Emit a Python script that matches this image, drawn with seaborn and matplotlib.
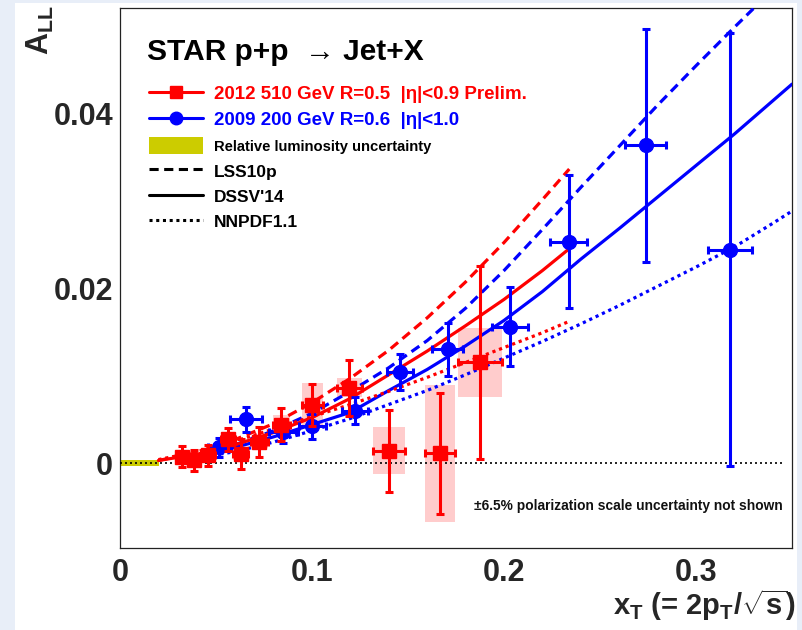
import numpy as np
import pandas as pd
import matplotlib
matplotlib.use('Agg')
import matplotlib.pyplot as plt
from matplotlib.lines import Line2D
from matplotlib.patches import Patch, Rectangle
from matplotlib.ticker import MultipleLocator, FuncFormatter
import seaborn as sns

# 2012 510 GeV, R=0.5 (red, preliminary)
red_x = [0.0321, 0.0384, 0.0459, 0.0562, 0.0628, 0.0726, 0.0840, 0.1002, 0.1194, 0.1400, 0.1668, 0.1874]
red_y = [0.0007, 0.0003, 0.0009, 0.0027, 0.0010, 0.0024, 0.0044, 0.0066, 0.0086, 0.0014, 0.0011, 0.0115]
red_yerr = [0.0012, 0.0012, 0.0012, 0.0013, 0.0017, 0.0017, 0.0019, 0.0024, 0.0032, 0.0047, 0.0069, 0.0110]
red_xerr = [0.0030, 0.0030, 0.0035, 0.0035, 0.0040, 0.0045, 0.0045, 0.0055, 0.0066, 0.0082, 0.0078, 0.0114]
red_sys = [0.0004, 0.0004, 0.0004, 0.0006, 0.0006, 0.0007, 0.0011, 0.0025, 0.0011, 0.0027, 0.0078, 0.0039]

# 2009 200 GeV, R=0.6 (blue)
blue_x = [0.0516, 0.0655, 0.0850, 0.1002, 0.1222, 0.1460, 0.1707, 0.2032, 0.2336, 0.2739, 0.3177]
blue_y = [0.0018, 0.0050, 0.0035, 0.0042, 0.0060, 0.0104, 0.0130, 0.0156, 0.0253, 0.0363, 0.0244]
blue_yerr = [0.0011, 0.0014, 0.0012, 0.0014, 0.0015, 0.0021, 0.0030, 0.0045, 0.0076, 0.0133, 0.0247]
blue_xerr = [0.0060, 0.0082, 0.0075, 0.0070, 0.0068, 0.0067, 0.0080, 0.0093, 0.0095, 0.0107, 0.0114]

# theory curves, 510 GeV
th510_x = [0.02, 0.04, 0.06, 0.08, 0.10, 0.12, 0.14, 0.16, 0.18, 0.20, 0.22, 0.234]
lss_510 = [0.0003, 0.0012, 0.0027, 0.0045, 0.0069, 0.0097, 0.0129, 0.0166, 0.0207, 0.0252, 0.0301, 0.0336]
dssv_510 = [0.0003, 0.0010, 0.0021, 0.0035, 0.0052, 0.0074, 0.0101, 0.0128, 0.0157, 0.0187, 0.0220, 0.0245]
nnpdf_510 = [0.0004, 0.0013, 0.0025, 0.0039, 0.0053, 0.0067, 0.0082, 0.0098, 0.0115, 0.0132, 0.0149, 0.0162]

# theory curves, 200 GeV
th200_x = [0.045, 0.06, 0.08, 0.10, 0.12, 0.14, 0.16, 0.18, 0.20, 0.22, 0.24, 0.26, 0.28, 0.30, 0.32, 0.34, 0.35]
lss_200 = [0.0012, 0.0021, 0.0037, 0.0057, 0.0082, 0.0109, 0.0140, 0.0177, 0.0220, 0.0267, 0.0315, 0.0362, 0.0409, 0.0454, 0.0498, 0.0541, 0.0562]
dssv_200 = [0.0011, 0.0018, 0.0030, 0.0044, 0.0058, 0.0083, 0.0107, 0.0134, 0.0163, 0.0196, 0.0233, 0.0268, 0.0304, 0.0340, 0.0376, 0.0414, 0.0433]
nnpdf_200 = [0.0008, 0.0013, 0.0024, 0.0037, 0.0051, 0.0067, 0.0083, 0.0101, 0.0120, 0.0139, 0.0159, 0.0180, 0.0202, 0.0224, 0.0247, 0.0274, 0.0288]

# relative luminosity band
lumi_x = [0.0, 0.0205]
lumi_unc = 0.00035

BG = '#e8eef8'
RED = '#ff0000'
BLUE = '#0000ff'
SYS = '#ffcccc'
LUMI = '#cccc00'
DASH = (0, (3, 1.8))
DOT = (0, (1, 1.2))

sns.set_theme(style='white')
plt.rcParams['font.family'] = ['Liberation Sans', 'DejaVu Sans']
plt.rcParams['font.weight'] = 'bold'
plt.rcParams['mathtext.fontset'] = 'custom'
plt.rcParams['mathtext.rm'] = 'Liberation Sans:bold'
plt.rcParams['mathtext.it'] = 'Liberation Sans:bold'
plt.rcParams['mathtext.bf'] = 'Liberation Sans:bold'
plt.rcParams['mathtext.sf'] = 'Liberation Sans:bold'

fig = plt.figure(figsize=(8.02, 6.30), dpi=100, facecolor=BG)
fig.patches.append(Rectangle((15 / 802, 0), 782 / 802, 627 / 630, transform=fig.transFigure,
                             facecolor='white', edgecolor='none', zorder=-10))
ax = fig.add_axes([120 / 802, 82 / 630, 672 / 802, 540 / 630])
ax.set_facecolor('white')

# systematic boxes
ax.bar(red_x, [2 * s for s in red_sys], width=[2 * w for w in red_xerr],
       bottom=[y - s for y, s in zip(red_y, red_sys)], color=SYS, edgecolor='none', zorder=1)

# relative luminosity uncertainty
ax.fill_between(lumi_x, -lumi_unc, lumi_unc, color=LUMI, lw=0, zorder=2)
ax.axhline(0, xmin=0, xmax=0.99, color='black', lw=1.2, ls=(0, (1.2, 1.8)), zorder=3)

# theory curves
for yy, ls in [(lss_200, DASH), (dssv_200, '-'), (nnpdf_200, DOT)]:
    sns.lineplot(x=th200_x, y=yy, ax=ax, color=BLUE, lw=2.3, linestyle=ls, zorder=4)
for yy, ls in [(lss_510, DASH), (dssv_510, '-'), (nnpdf_510, DOT)]:
    sns.lineplot(x=th510_x, y=yy, ax=ax, color=RED, lw=2.3, linestyle=ls, zorder=4)

# data
ax.errorbar(blue_x, blue_y, yerr=blue_yerr, xerr=blue_xerr, fmt='o', color=BLUE, ms=10,
            elinewidth=2.2, capsize=3, capthick=2.2, zorder=5)
ax.errorbar(red_x, red_y, yerr=red_yerr, xerr=red_xerr, fmt='s', color=RED, ms=9.5,
            elinewidth=2.2, capsize=3, capthick=2.2, zorder=6)

ax.set_xlim(0, 0.35)
ax.set_ylim(-0.0097, 0.052)
ax.xaxis.set_major_locator(MultipleLocator(0.1))
ax.xaxis.set_minor_locator(MultipleLocator(0.02))
ax.yaxis.set_major_locator(MultipleLocator(0.02))
ax.yaxis.set_minor_locator(MultipleLocator(0.005))
fmt = FuncFormatter(lambda v, p: '0' if abs(v) < 1e-9 else f'{v:g}')
ax.xaxis.set_major_formatter(fmt)
ax.yaxis.set_major_formatter(fmt)
ax.tick_params(which='both', direction='in', top=False, right=False, color='#333333', width=0.8)
ax.tick_params(which='major', length=13, labelsize=22)
ax.tick_params(which='minor', length=6.5)
ax.tick_params(axis='x', pad=7)
ax.tick_params(axis='y', pad=5)
for lab in ax.get_xticklabels() + ax.get_yticklabels():
    lab.set_fontweight('bold')
for sp in ax.spines.values():
    sp.set_color('#222222')
    sp.set_linewidth(0.9)
ax.set_xlabel('')
ax.set_ylabel('')

ax.text(0.040, 0.9037, 'STAR p+p  \u2192 Jet+X', transform=ax.transAxes, fontsize=21.5,
        fontweight='bold', ha='left', va='baseline', color='black')

handles = [
    Line2D([], [], color=RED, marker='s', ms=9, lw=2.2),
    Line2D([], [], color=BLUE, marker='o', ms=9, lw=2.2),
    Patch(facecolor=LUMI, edgecolor='none'),
    Line2D([], [], color='black', ls=DASH, lw=2.2),
    Line2D([], [], color='black', ls='-', lw=2.2),
    Line2D([], [], color='black', ls=DOT, lw=2.2),
]
labels = ['2012 510 GeV R=0.5  |\u03b7|<0.9 Prelim.', '2009 200 GeV R=0.6  |\u03b7|<1.0',
          'Relative luminosity uncertainty', 'LSS10p', "DSSV'14", 'NNPDF1.1']
leg = ax.legend(handles, labels, loc='upper left', bbox_to_anchor=(0.043, 0.858), frameon=False,
                borderpad=0, borderaxespad=0, handlelength=3.1, handletextpad=0.66,
                handleheight=1.1, labelspacing=0.46, prop={'size': 12.5, 'weight': 'bold'})
for t, c, s in zip(leg.get_texts(), [RED, BLUE, 'black', 'black', 'black', 'black'],
                   [13.5, 13.5, 10.6, 12.5, 12.5, 12.5]):
    t.set_color(c)
    t.set_fontsize(s)

ax.text(0.9866, 0.0778, '\u00b16.5% polarization scale uncertainty not shown', transform=ax.transAxes,
        fontsize=9.9, fontweight='bold', ha='right', va='center', color='#111111')

fig.text(795 / 802, 1 - 605 / 630, r'x$_{\rm T}$ (= 2p$_{\rm T}$/$\sqrt{\rm s}$)', fontsize=21,
         fontweight='bold', ha='right', va='center')
fig.text(40 / 802, 1 - 30 / 630, r'A$_{\rm LL}$', fontsize=22, fontweight='bold', rotation=90,
         ha='center', va='center')

fig.savefig('out.png', dpi=100, facecolor=BG)
